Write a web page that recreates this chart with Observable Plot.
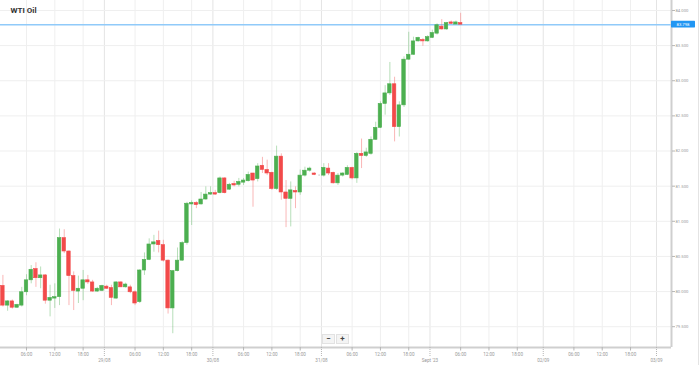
<!DOCTYPE html>
<html><head><meta charset="utf-8">
<script src="https://cdn.jsdelivr.net/npm/d3@7"></script>
<script src="https://cdn.jsdelivr.net/npm/@observablehq/plot@0.6"></script>
<style>
html,body{margin:0;padding:0;background:#fff;}
#chart{position:relative;width:699px;height:365px;overflow:hidden;font-family:Roboto,"Open Sans",sans-serif;}
#edge{position:absolute;left:698px;top:0;width:1px;height:365px;background:#e4e4e4;}
#zoom{position:absolute;left:322px;top:334px;display:flex;gap:1px;}
#zoom div{width:11px;height:8px;line-height:8px;text-align:center;font-size:8px;font-weight:bold;color:#444;background:#f4f4f4;border:1px solid #e2e2e2;}
</style></head><body><div id="chart"><div id="edge"></div><div id="zoom"><div>−</div><div>+</div></div></div>
<script>
const title = "WTI Oil";
const lastPrice = 83.798;
const firstCandleUTC = [2023, 7, 28, 1]; // 28 Aug 2023 01:00, hourly candles
const closedHour = 23; // daily market break, no candle

const open  = [80.08,79.80,79.86,79.77,79.80,79.99,80.16,80.32,80.19,80.23,79.87,79.90,79.92,80.76,80.57,80.22,80.00,80.04,80.16,80.13,80.00,80.01,80.07,80.05,79.90,80.13,80.06,80.06,79.99,79.85,80.30,80.45,80.67,80.72,80.66,80.44,79.76,80.29,80.44,80.69,81.24,81.26,81.24,81.31,81.38,81.40,81.40,81.61,81.45,81.53,81.52,81.55,81.57,81.68,81.60,81.79,81.73,81.69,81.46,81.92,81.41,81.32,81.43,81.41,81.65,81.72,81.68,81.65,81.65,81.75,81.69,81.54,81.65,81.66,81.76,81.61,81.96,81.93,81.96,82.16,82.33,82.67,82.82,82.95,82.34,82.65,83.30,83.37,83.56,83.58,83.56,83.61,83.67,83.77,83.73,83.83,83.80,83.82];
const high  = [80.23,79.87,79.88,79.82,80.06,80.24,80.37,80.41,80.35,80.24,80.09,80.11,80.89,80.88,80.58,80.28,80.22,80.30,80.23,80.16,80.06,80.09,80.09,80.09,80.14,80.14,80.12,80.09,80.01,80.31,80.55,80.75,80.80,80.86,80.73,80.45,80.30,80.62,80.71,81.27,81.29,81.28,81.41,81.49,81.49,81.44,81.63,81.62,81.54,81.57,81.61,81.61,81.70,81.68,81.82,81.91,81.87,81.70,82.07,81.96,81.58,81.56,81.49,81.73,81.77,81.77,81.69,81.66,81.82,81.82,81.70,81.68,81.69,81.79,81.77,81.98,82.17,82.04,82.20,82.41,82.70,82.93,83.26,83.05,82.70,83.34,83.69,83.62,83.62,83.60,83.64,83.72,83.81,83.87,83.83,83.85,83.85,83.96];
const low   = [79.78,79.72,79.75,79.76,79.78,79.94,80.11,80.06,80.04,79.82,79.64,79.76,79.80,80.54,79.80,79.73,79.83,79.87,80.10,79.99,79.99,80.00,80.03,79.80,79.89,80.06,80.05,79.97,79.80,79.83,80.23,80.44,80.56,80.55,80.42,79.68,79.40,80.28,80.43,80.66,80.94,81.18,81.23,81.30,81.37,81.37,81.39,81.39,81.44,81.49,81.49,81.51,81.56,81.20,81.56,81.68,81.65,81.44,81.44,81.30,80.91,80.92,81.18,81.37,81.63,81.70,81.65,81.64,81.63,81.65,81.53,81.51,81.63,81.65,81.59,81.54,81.75,81.91,81.94,82.15,82.32,82.51,82.79,82.13,82.20,82.62,83.29,83.36,83.55,83.49,83.55,83.60,83.65,83.72,83.72,83.80,83.80,83.80];
const close = [79.80,79.86,79.77,79.81,79.99,80.16,80.31,80.19,80.23,79.87,79.91,79.92,80.76,80.57,80.22,80.01,80.04,80.16,80.13,80.00,80.04,80.08,80.04,79.91,80.13,80.06,80.10,79.99,79.83,80.30,80.45,80.67,80.70,80.66,80.44,79.76,80.29,80.44,80.69,81.25,81.26,81.23,81.31,81.38,81.40,81.38,81.61,81.40,81.52,81.51,81.56,81.58,81.66,81.58,81.78,81.73,81.68,81.46,81.92,81.41,81.32,81.44,81.41,81.65,81.72,81.75,81.66,81.65,81.76,81.68,81.54,81.65,81.68,81.76,81.61,81.96,81.93,81.98,82.16,82.33,82.67,82.82,82.95,82.34,82.65,83.30,83.37,83.56,83.61,83.56,83.62,83.68,83.79,83.73,83.82,83.81,83.83,83.798];

const priceTicks = [79.5, 80, 80.5, 81, 81.5, 82, 82.5, 83, 83.5, 84];
const tickDays = ["2023-08-28","2023-08-29","2023-08-30","2023-08-31","2023-09-01","2023-09-02","2023-09-03"];
const dayTickLabels = [null,"29/08","30/08","31/08","Sept '23","02/09","03/09"];
const hourTickHours = [6, 12, 18];
const hourTickLabels = ["06:00","12:00","18:00"];

const xDomain = [-0.509, 141.68];
const yDomain = [79.204, 84.142];

const HOUR = 3600e3;
const times = [];
for (let t = Date.UTC(...firstCandleUTC); times.length < open.length; t += HOUR) {
  if (new Date(t).getUTCHours() === closedHour) continue;
  times.push(t);
}
const lastT = times[times.length - 1];
function slotOf(t) {
  if (t <= lastT) return times.indexOf(t);
  return times.length - 1 + (t - lastT) / HOUR;
}
const inDomain = s => s >= 0 && s <= xDomain[1];

const candles = open.map((o, i) => ({
  slot: i, open: o, high: high[i], low: low[i], close: close[i],
  color: close[i] > o ? "#4caf50" : close[i] < o ? "#f24a4a" : "#555555"
}));

const hourTicks = [];
tickDays.forEach(day => {
  const [Y, M, D] = day.split("-").map(Number);
  hourTickHours.forEach((h, k) => {
    const s = slotOf(Date.UTC(Y, M - 1, D, h));
    if (s >= 0 && inDomain(s)) hourTicks.push({slot: s, label: hourTickLabels[k]});
  });
});
const dayTicks = [];
tickDays.forEach((day, k) => {
  if (!dayTickLabels[k]) return;
  const [Y, M, D] = day.split("-").map(Number);
  const s = slotOf(Date.UTC(Y, M - 1, D, 0)) - 0.5;
  if (inDomain(s)) dayTicks.push({slot: s, label: dayTickLabels[k]});
});
const hourLabel = new Map(hourTicks.map(d => [d.slot, d.label]));
const dayLabel = new Map(dayTicks.map(d => [d.slot, d.label]));
const fmt = d3.format(".3f");

function priceLabel(index, scales, values, dims) {
  const y = scales.y(lastPrice);
  const x0 = dims.width - dims.marginRight;
  const g = d3.create("svg:g");
  g.append("rect").attr("x", x0).attr("y", y - 3.3).attr("width", 24).attr("height", 6.6)
    .attr("fill", "#2196f3").attr("rx", 0.6);
  g.append("text").attr("x", x0 + 12).attr("y", y).attr("dy", "0.35em")
    .attr("text-anchor", "middle").attr("fill", "#fff").attr("font-size", 4.2)
    .text(fmt(lastPrice));
  return g.node();
}

const chart = Plot.plot({
  width: 699, height: 365,
  marginLeft: 0, marginRight: 28, marginTop: 0, marginBottom: 18,
  x: {domain: xDomain, axis: null, label: null},
  y: {domain: yDomain, axis: null, label: null},
  color: {type: "identity"},
  style: {fontFamily: "Roboto, 'Open Sans', sans-serif", background: "#fff", overflow: "visible"},
  marks: [
    Plot.gridX(hourTicks.map(d => d.slot), {stroke: "#efefef", strokeOpacity: 1}),
    Plot.gridX(dayTicks.map(d => d.slot), {stroke: "#e4e4e4", strokeOpacity: 1}),
    Plot.gridY(priceTicks, {stroke: "#efefef", strokeOpacity: 1}),
    Plot.ruleY([lastPrice], {stroke: "#90caf9", strokeWidth: 1.5}),
    Plot.ruleX(candles, {x: "slot", y1: "low", y2: "high", stroke: "color", strokeOpacity: 0.4, strokeWidth: 1}),
    Plot.rect(candles, {x1: d => d.slot - 0.37, x2: d => d.slot + 0.37, y1: "open", y2: "close",
      fill: "color", stroke: "color", strokeWidth: 0.6}),
    Plot.ruleY([yDomain[0]], {stroke: "#cfcfcf", strokeWidth: 2}),
    Plot.ruleX([xDomain[1]], {stroke: "#cfcfcf", strokeWidth: 2}),
    Plot.axisX(hourTicks.map(d => d.slot), {anchor: "bottom", label: null, tickSize: 3.5, tickPadding: 1.5, fontSize: 4.6,
      tickFormat: s => hourLabel.get(s), stroke: "#b5b5b5", fill: "#999"}),
    Plot.axisX(dayTicks.map(d => d.slot), {anchor: "bottom", label: null, tickSize: 9.5, tickPadding: 1.5, fontSize: 4.6,
      tickFormat: s => dayLabel.get(s), stroke: "#b5b5b5", fill: "#999", strokeDasharray: "1,1"}),
    Plot.axisY(priceTicks, {anchor: "right", label: null, tickSize: 3, tickPadding: 1, fontSize: 4.2,
      tickFormat: fmt, stroke: "#b5b5b5", fill: "#999"}),
    priceLabel,
    Plot.text([title], {frameAnchor: "top-left", dx: 10, dy: 6.5, lineAnchor: "top", textAnchor: "start",
      fontSize: 8, fontWeight: "bold", fill: "#333"})
  ]
});
document.getElementById("chart").prepend(chart);
</script>
</body></html>
